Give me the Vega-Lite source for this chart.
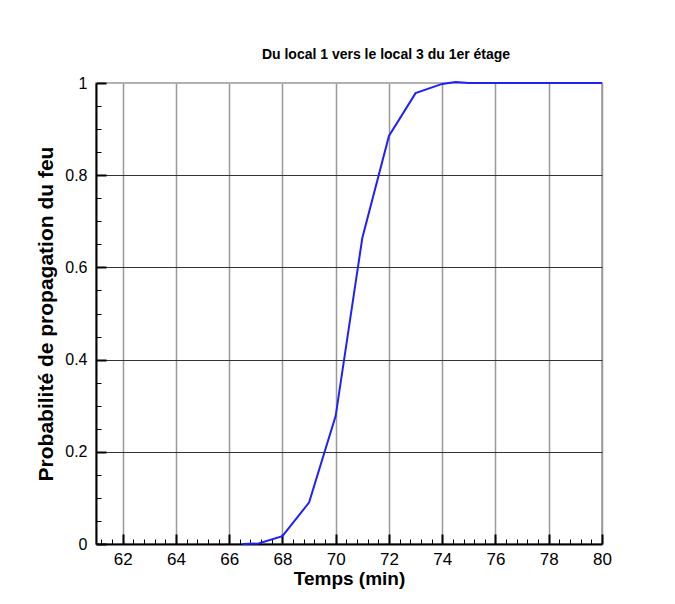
{
  "$schema": "https://vega.github.io/schema/vega-lite/v6.json",
  "autosize": "none",
  "width": 506,
  "height": 461,
  "padding": {"left": 96, "top": 83, "right": 73, "bottom": 60},
  "background": "white",
  "config": {
    "font": "Liberation Sans",
    "view": {"stroke": "#999999", "strokeWidth": 1.5}
  },
  "title": {
    "text": "Du local 1 vers le local 3 du 1er étage",
    "font": "Liberation Sans",
    "fontSize": 14,
    "fontWeight": "bold",
    "color": "black",
    "anchor": "middle",
    "frame": "group",
    "dx": 37,
    "offset": 13
  },
  "data": {
    "values": [
      {"temps": 66.5, "p": 0},
      {"temps": 67.1, "p": 0.001},
      {"temps": 68, "p": 0.017},
      {"temps": 69, "p": 0.09},
      {"temps": 70, "p": 0.278},
      {"temps": 71, "p": 0.664},
      {"temps": 72, "p": 0.885},
      {"temps": 73, "p": 0.978},
      {"temps": 74, "p": 0.998},
      {"temps": 74.5, "p": 1.002},
      {"temps": 75, "p": 1.0},
      {"temps": 80, "p": 1.0}
    ]
  },
  "mark": {"type": "line", "color": "#2020ff", "strokeWidth": 2, "clip": false},
  "encoding": {
    "x": {
      "field": "temps",
      "type": "quantitative",
      "scale": {"domain": [61, 80], "nice": false, "zero": false},
      "axis": {
        "title": "Temps (min)",
        "titleFont": "Liberation Sans",
        "titleFontSize": 19,
        "titleFontWeight": "bold",
        "titleColor": "black",
        "titlePadding": -3,
        "values": [61.2, 61.6, 62, 62.4, 62.8, 63.2, 63.6, 64, 64.4, 64.8, 65.2, 65.6, 66, 66.4, 66.8, 67.2, 67.6, 68, 68.4, 68.8, 69.2, 69.6, 70, 70.4, 70.8, 71.2, 71.6, 72, 72.4, 72.8, 73.2, 73.6, 74, 74.4, 74.8, 75.2, 75.6, 76, 76.4, 76.8, 77.2, 77.6, 78, 78.4, 78.8, 79.2, 79.6, 80],
        "labelExpr": "abs(datum.value/2 - round(datum.value/2)) < 0.01 ? format(datum.value, 'd') : ''",
        "labelFont": "Liberation Sans",
        "labelFontSize": 17,
        "labelColor": "black",
        "labelPadding": 17,
        "labelFlush": false,
        "labelOverlap": false,
        "domainColor": "black",
        "domainWidth": 2,
        "tickColor": "black",
        "tickSize": {"condition": {"test": "abs(datum.value/2 - round(datum.value/2)) < 0.01", "value": -10}, "value": -5},
        "tickWidth": {"condition": {"test": "abs(datum.value/2 - round(datum.value/2)) < 0.01", "value": 2}, "value": 1},
        "grid": true,
        "gridColor": "#999999",
        "gridWidth": 1.5,
        "gridOpacity": {"condition": {"test": "abs(datum.value/2 - round(datum.value/2)) < 0.01", "value": 1}, "value": 0}
      }
    },
    "y": {
      "field": "p",
      "type": "quantitative",
      "scale": {"domain": [0, 1], "nice": false, "zero": false},
      "axis": {
        "title": "Probabilité de propagation du feu",
        "titleFont": "Liberation Sans",
        "titleFontSize": 21,
        "titleFontWeight": "bold",
        "titleColor": "black",
        "titlePadding": 8,
        "values": [0, 0.05, 0.1, 0.15, 0.2, 0.25, 0.3, 0.35, 0.4, 0.45, 0.5, 0.55, 0.6, 0.65, 0.7, 0.75, 0.8, 0.85, 0.9, 0.95, 1],
        "labelExpr": "abs(datum.value*5 - round(datum.value*5)) < 0.001 ? (datum.value == 0 ? '0' : datum.value == 1 ? '1' : format(datum.value, '.1f')) : ''",
        "labelFont": "Liberation Sans",
        "labelFontSize": 16,
        "labelColor": "black",
        "labelPadding": 19,
        "labelFlush": false,
        "labelOverlap": false,
        "domainColor": "black",
        "domainWidth": 2,
        "tickColor": "black",
        "tickSize": {"condition": {"test": "abs(datum.value*5 - round(datum.value*5)) < 0.001", "value": -10}, "value": -5},
        "tickWidth": {"condition": {"test": "abs(datum.value*5 - round(datum.value*5)) < 0.001", "value": 2}, "value": 1},
        "grid": true,
        "gridColor": "#333333",
        "gridWidth": 1,
        "gridOpacity": {"condition": {"test": "abs(datum.value*5 - round(datum.value*5)) < 0.001 && datum.value > 0.01 && datum.value < 0.99", "value": 1}, "value": 0}
      }
    }
  }
}
